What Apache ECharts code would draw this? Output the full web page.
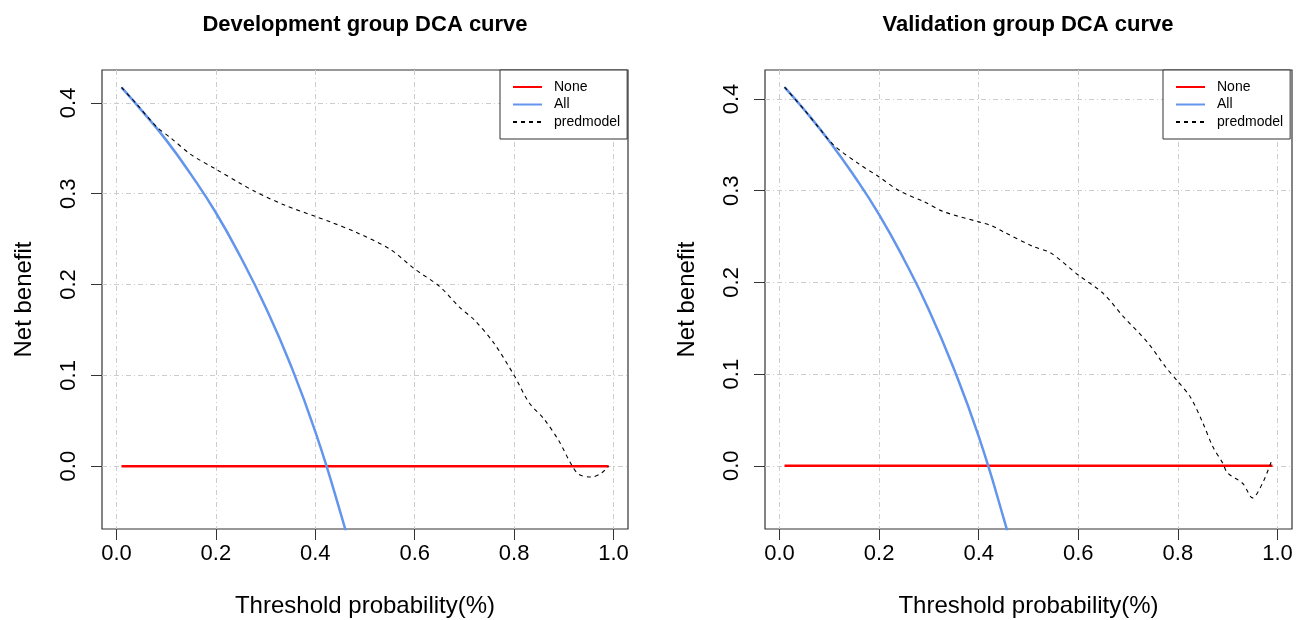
<!DOCTYPE html>
<html>
<head>
<meta charset="utf-8">
<script src="https://cdn.jsdelivr.net/npm/echarts@6/dist/echarts.min.js"></script>
<style>
  html, body { margin: 0; padding: 0; background: #fff; }
  #chart { width: 1306px; height: 620px; }
</style>
</head>
<body>
<div id="chart"></div>
<script>
// tick positions
var xTicks = [0, 0.2, 0.4, 0.6, 0.8, 1.0];
var yTicks = [0, 0.1, 0.2, 0.3, 0.4];

// "None" line (treat none)
var noneX = [0.01, 0.99];
var noneY = [0, 0];

// Development group
var devAllX = [0.01, 0.05, 0.10, 0.15, 0.20, 0.25, 0.30, 0.35, 0.40, 0.45, 0.48];
var devAllY = [0.417, 0.392, 0.359, 0.321, 0.279, 0.230, 0.175, 0.112, 0.038, -0.050, -0.110];
var devModelX = [0.01, 0.04, 0.08, 0.11, 0.15, 0.20, 0.25, 0.28, 0.34, 0.40, 0.43, 0.48, 0.55, 0.60, 0.65, 0.69, 0.72, 0.76, 0.80, 0.83, 0.86, 0.89, 0.915, 0.93, 0.955, 0.975, 0.99];
var devModelY = [0.417, 0.399, 0.374, 0.361, 0.343, 0.327, 0.311, 0.302, 0.287, 0.275, 0.269, 0.258, 0.239, 0.217, 0.198, 0.175, 0.161, 0.135, 0.100, 0.070, 0.052, 0.028, 0.002, -0.009, -0.012, -0.008, 0.000];

// Validation group
var valAllX = [0.01, 0.05, 0.10, 0.15, 0.20, 0.25, 0.30, 0.35, 0.40, 0.45, 0.48];
var valAllY = [0.413, 0.388, 0.354, 0.316, 0.274, 0.225, 0.170, 0.106, 0.032, -0.057, -0.117];
var valModelX = [0.01, 0.05, 0.08, 0.11, 0.16, 0.20, 0.24, 0.29, 0.33, 0.40, 0.425, 0.45, 0.51, 0.545, 0.60, 0.65, 0.69, 0.74, 0.775, 0.80, 0.825, 0.85, 0.87, 0.89, 0.90, 0.93, 0.95, 0.97, 0.99];
var valModelY = [0.413, 0.388, 0.368, 0.349, 0.329, 0.315, 0.300, 0.288, 0.277, 0.266, 0.262, 0.255, 0.239, 0.232, 0.208, 0.188, 0.163, 0.134, 0.108, 0.092, 0.075, 0.047, 0.021, 0.003, -0.008, -0.019, -0.035, -0.019, 0.008];

var FONT = 'Liberation Sans, Arial, sans-serif';

function pairs(xs, ys) {
  var out = [];
  for (var i = 0; i < xs.length; i++) out.push([xs[i], ys[i]]);
  return out;
}

function xAxisFor(idx) {
  return {
    gridIndex: idx, type: 'value', min: -0.0292, max: 1.0292,
    axisLine: { show: false, onZero: false },
    axisTick: { show: true, length: 11, customValues: xTicks, lineStyle: { color: '#333', width: 1 } },
    axisLabel: { customValues: xTicks, formatter: function (v) { return v.toFixed(1); },
      fontSize: 22, color: '#000', margin: 14, fontFamily: FONT },
    splitLine: { show: true, lineStyle: { color: '#cccccc', width: 1, type: [5, 3, 1, 3] } },
    name: 'Threshold probability(%)', nameLocation: 'middle', nameGap: 65,
    nameTextStyle: { fontSize: 24, color: '#000', fontFamily: FONT }
  };
}

function yAxisFor(idx, min, max) {
  return {
    gridIndex: idx, type: 'value', min: min, max: max,
    axisLine: { show: false, onZero: false },
    axisTick: { show: true, length: 11, customValues: yTicks, lineStyle: { color: '#333', width: 1 } },
    axisLabel: { customValues: yTicks, formatter: function (v) { return v.toFixed(1); },
      rotate: 90, fontSize: 22, color: '#000', margin: 22, fontFamily: FONT },
    splitLine: { show: true, lineStyle: { color: '#cccccc', width: 1, type: [5, 3, 1, 3] } },
    name: 'Net benefit', nameLocation: 'middle', nameGap: 66, nameRotate: 90,
    nameTextStyle: { fontSize: 24, color: '#000', fontFamily: FONT }
  };
}

function legendFor(left) {
  return {
    orient: 'vertical', left: left, top: 70,
    data: ['None', 'All', 'predmodel'],
    itemWidth: 29, itemHeight: 14, itemGap: 3.5,
    padding: [10, 7, 10, 12],
    backgroundColor: '#fff', borderColor: '#333', borderWidth: 1, borderRadius: 0,
    itemStyle: { opacity: 0 },
    textStyle: { fontSize: 14, color: '#000', fontFamily: FONT, padding: [0, 0, 0, 7] },
    selectedMode: false
  };
}

function seriesFor(idx, allX, allY, modelX, modelY) {
  return [
    { name: 'None', type: 'line', xAxisIndex: idx, yAxisIndex: idx, data: pairs(noneX, noneY),
      symbol: 'none', lineStyle: { color: '#ff0000', width: 2.5 }, itemStyle: { color: '#ff0000' } },
    { name: 'All', type: 'line', xAxisIndex: idx, yAxisIndex: idx, data: pairs(allX, allY),
      symbol: 'none', smooth: true, lineStyle: { color: '#6495ed', width: 2.5 }, itemStyle: { color: '#6495ed' } },
    { name: 'predmodel', type: 'line', xAxisIndex: idx, yAxisIndex: idx, data: pairs(modelX, modelY),
      symbol: 'none', smooth: 0.3, lineStyle: { color: '#000', width: 1.1, type: [4, 4] }, itemStyle: { color: '#000' } }
  ];
}

var chart = echarts.init(document.getElementById('chart'));
var option = {
  backgroundColor: '#fff',
  animation: false,
  textStyle: { fontFamily: FONT },
  title: [
    { text: 'Development group DCA curve', left: 365, top: 14, textAlign: 'center', padding: 0,
      textStyle: { fontSize: 22, fontWeight: 'bold', color: '#000', fontFamily: FONT } },
    { text: 'Validation group DCA curve', left: 1028, top: 14, textAlign: 'center', padding: 0,
      textStyle: { fontSize: 22, fontWeight: 'bold', color: '#000', fontFamily: FONT } }
  ],
  legend: [legendFor(500), legendFor(1163)],
  grid: [
    { left: 102, top: 70, width: 526, height: 459, show: true, borderColor: '#333', borderWidth: 1.2,
      backgroundColor: 'transparent', outerBoundsMode: 'none' },
    { left: 765, top: 70, width: 527, height: 459, show: true, borderColor: '#333', borderWidth: 1.2,
      backgroundColor: 'transparent', outerBoundsMode: 'none' }
  ],
  xAxis: [xAxisFor(0), xAxisFor(1)],
  yAxis: [yAxisFor(0, -0.0692, 0.4362), yAxisFor(1, -0.0689, 0.4316)],
  series: seriesFor(0, devAllX, devAllY, devModelX, devModelY)
    .concat(seriesFor(1, valAllX, valAllY, valModelX, valModelY))
};
chart.setOption(option);
</script>
</body>
</html>
